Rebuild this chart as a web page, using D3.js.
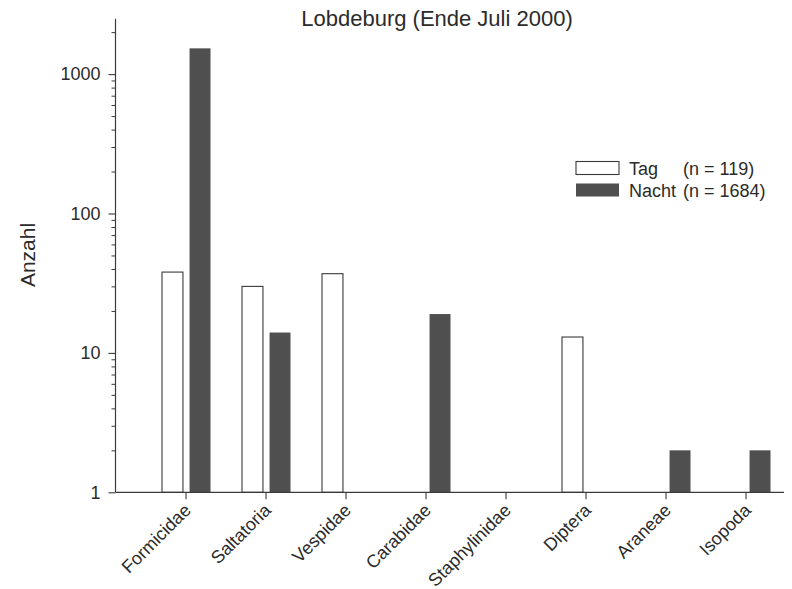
<!DOCTYPE html>
<html>
<head>
<meta charset="utf-8">
<script src="https://cdn.jsdelivr.net/npm/d3@7/dist/d3.min.js"></script>
<style>
  html, body { margin: 0; padding: 0; background: #fff; }
  svg { display: block; font-family: "Liberation Sans", Arial, Helvetica, sans-serif; }
  text { fill: #2b2b2b; }
</style>
</head>
<body>
<svg id="chart" width="792" height="589"></svg>
<script>
// Catches per taxon, day vs. night traps
const categories = ["Formicidae", "Saltatoria", "Vespidae", "Carabidae", "Staphylinidae", "Diptera", "Araneae", "Isopoda"];
const tagValues = [38, 30, 37, null, null, 13, null, null];
const nachtValues = [1530, 14, null, 19, null, null, 2, 2];
const seriesNames = ["Tag", "Nacht"];
const legendLabels = ["(n = 119)", "(n = 1684)"];
const majorTicks = [1, 10, 100, 1000];
const minorTicks = [2, 3, 4, 5, 6, 7, 8, 9, 20, 30, 40, 50, 60, 70, 80, 90,
                    200, 300, 400, 500, 600, 700, 800, 900, 2000];

const ink = "#3a3a3a";
const nachtFill = "#4f4f4f";

const svg = d3.select("#chart");

const axisX = 115.5;
const baseY = 492.3;
const decade = 139.4;

const y = d3.scaleLog()
  .domain([1, 2500])
  .range([baseY, baseY - decade * Math.log10(2500)]);

const x = d3.scaleBand()
  .domain(categories)
  .range([146, 786])
  .paddingInner(0);

const xs = d3.scaleBand()
  .domain(seriesNames)
  .range([16, 64.5])
  .paddingInner(0.24);

// Title
svg.append("text")
  .attr("x", 437)
  .attr("y", 26)
  .attr("text-anchor", "middle")
  .style("font-size", "22px")
  .text("Lobdeburg (Ende Juli 2000)");

// Y axis label
svg.append("text")
  .attr("transform", `translate(35,255) rotate(-90)`)
  .attr("text-anchor", "middle")
  .style("font-size", "21px")
  .text("Anzahl");

// Bars
const rows = categories.map((c, i) => ({ cat: c, Tag: tagValues[i], Nacht: nachtValues[i] }));
const groups = svg.append("g")
  .selectAll("g")
  .data(rows)
  .join("g")
  .attr("transform", d => `translate(${x(d.cat)},0)`);

groups.selectAll("rect")
  .data(d => seriesNames.filter(s => d[s] != null).map(s => ({ s, v: d[s] })))
  .join("rect")
  .attr("x", d => xs(d.s))
  .attr("width", xs.bandwidth())
  .attr("y", d => y(d.v))
  .attr("height", d => y(1) - y(d.v))
  .attr("fill", d => d.s === "Tag" ? "#fff" : nachtFill)
  .attr("stroke", d => d.s === "Tag" ? ink : "none")
  .attr("stroke-width", 1.1);

// Y axis: major ticks with labels, minor ticks without
const yMajor = svg.append("g")
  .attr("transform", `translate(${axisX},0)`)
  .call(d3.axisLeft(y).tickValues(majorTicks).tickFormat(d3.format("d"))
    .tickSize(7).tickSizeOuter(0).tickPadding(8));
yMajor.select(".domain").remove();
yMajor.selectAll("line").attr("stroke", ink).attr("stroke-width", 1.1);
yMajor.selectAll("text")
  .style("font-size", "18px")
  .attr("fill", "#2b2b2b")
  .style("font-family", "'Liberation Sans', Arial, sans-serif");

const yMinor = svg.append("g")
  .attr("transform", `translate(${axisX},0)`)
  .call(d3.axisLeft(y).tickValues(minorTicks).tickFormat("").tickSize(4).tickSizeOuter(0));
yMinor.select(".domain").remove();
yMinor.selectAll("line").attr("stroke", ink).attr("stroke-width", 1);

svg.append("line")
  .attr("x1", axisX).attr("x2", axisX)
  .attr("y1", y(1)).attr("y2", y(2500))
  .attr("stroke", ink).attr("stroke-width", 1.2);

// X axis
const xAxis = svg.append("g")
  .attr("transform", `translate(0,${baseY})`)
  .call(d3.axisBottom(x).tickSize(7).tickSizeOuter(0));
xAxis.select(".domain").remove();
xAxis.selectAll("line").attr("stroke", ink).attr("stroke-width", 1.1);
xAxis.selectAll("text")
  .attr("x", 0).attr("y", 0).attr("dy", 0)
  .attr("transform", "translate(6,19) rotate(-45)")
  .attr("text-anchor", "end")
  .attr("fill", "#2b2b2b")
  .style("font-size", "18px")
  .style("font-family", "'Liberation Sans', Arial, sans-serif");

svg.append("line")
  .attr("x1", axisX).attr("x2", 784)
  .attr("y1", baseY).attr("y2", baseY)
  .attr("stroke", ink).attr("stroke-width", 1.2);

// Legend
const legend = svg.append("g").attr("transform", "translate(576,161.5)");
const legendItems = legend.selectAll("g")
  .data(seriesNames)
  .join("g")
  .attr("transform", (d, i) => `translate(0,${i * 22})`);

legendItems.append("rect")
  .attr("width", 43)
  .attr("height", 13)
  .attr("fill", d => d === "Tag" ? "#fff" : nachtFill)
  .attr("stroke", d => d === "Tag" ? ink : "none")
  .attr("stroke-width", 1.1);

legendItems.append("text")
  .attr("x", 53)
  .attr("y", 13)
  .style("font-size", "18px")
  .text(d => d);

legendItems.append("text")
  .attr("x", 107)
  .attr("y", 13)
  .style("font-size", "18px")
  .text((d, i) => legendLabels[i]);
</script>
</body>
</html>
